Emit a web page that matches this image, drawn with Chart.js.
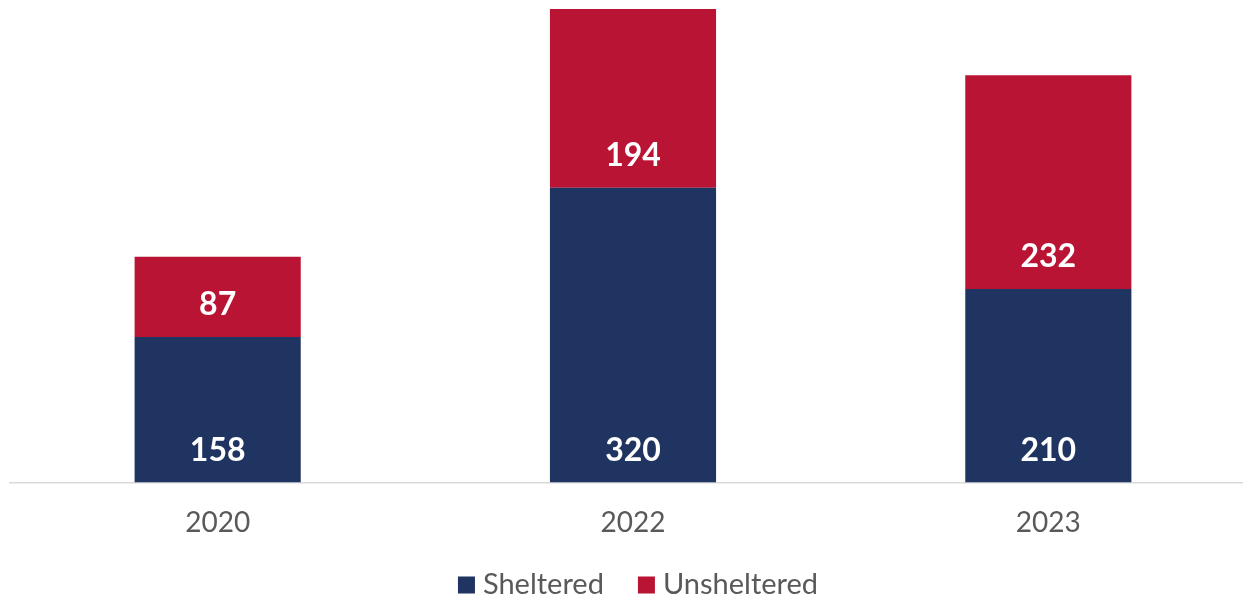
<!DOCTYPE html>
<html><head><meta charset="utf-8">
<script src="https://cdn.jsdelivr.net/npm/chart.js@4/dist/chart.umd.min.js"></script>
<style>
html,body{margin:0;padding:0;background:#fff;overflow:hidden;}
#wrap{position:relative;width:1256px;height:600px;}
</style></head>
<body><div id="wrap"><canvas id="c"></canvas></div>
<script>
const categories = ["2020", "2022", "2023"];
const sheltered = [158, 320, 210];
const unsheltered = [87, 194, 232];
const seriesNames = ["Sheltered", "Unsheltered"];

const FONT = 'Lato, "Open Sans", sans-serif';

const labelPlugin = {
  id: 'barLabels',
  afterDatasetsDraw(chart) {
    const ctx = chart.ctx;
    ctx.save();
    ctx.fillStyle = '#ffffff';
    ctx.font = 'bold 32px ' + FONT;
    ctx.textAlign = 'center';
    ctx.textBaseline = 'middle';
    chart.data.datasets.forEach((ds, i) => {
      const meta = chart.getDatasetMeta(i);
      meta.data.forEach((el, j) => {
        ctx.fillText(String(ds.data[j]), el.x, el.base - 32);
      });
    });
    ctx.restore();
  }
};

const legendPlugin = {
  id: 'customLegend',
  afterDraw(chart) {
    const ctx = chart.ctx;
    ctx.save();
    ctx.font = '29px ' + FONT;
    ctx.textBaseline = 'middle';
    ctx.textAlign = 'left';
    const box = 17, gapText = 8, gapItem = 34, cy = 585;
    const items = chart.data.datasets.map(ds => ({ label: ds.label, color: ds.backgroundColor, w: ctx.measureText(ds.label).width }));
    let total = 0;
    items.forEach((it, i) => { total += box + gapText + it.w + (i < items.length - 1 ? gapItem : 0); });
    let x = 638 - total / 2;
    items.forEach(it => {
      ctx.fillStyle = it.color;
      ctx.fillRect(x, cy - box / 2, box, box);
      x += box + gapText;
      ctx.fillStyle = '#595959';
      ctx.fillText(it.label, x, cy);
      x += it.w + gapItem;
    });
    ctx.restore();
  }
};

new Chart(document.getElementById('c'), {
  type: 'bar',
  data: {
    labels: categories,
    datasets: [
      { label: seriesNames[0], data: sheltered, backgroundColor: '#1f3460', borderWidth: 0 },
      { label: seriesNames[1], data: unsheltered, backgroundColor: '#b91434', borderWidth: 0 }
    ]
  },
  options: {
    responsive: true,
    maintainAspectRatio: false,
    animation: false,
    layout: { padding: { top: 9, left: 10, right: 0, bottom: 36 } },
    datasets: { bar: { categoryPercentage: 0.4, barPercentage: 1 } },
    scales: {
      x: {
        stacked: true,
        grid: { display: false, drawTicks: false },
        border: { display: true, color: '#d9d9d9', width: 1.5 },
        ticks: { color: '#595959', font: { size: 28, family: FONT }, padding: 24 }
      },
      y: {
        stacked: true,
        display: false,
        min: 0,
        max: 514
      }
    },
    plugins: {
      tooltip: { enabled: false },
      legend: { display: false }
    }
  },
  plugins: [labelPlugin, legendPlugin]
});
</script>
</body></html>
